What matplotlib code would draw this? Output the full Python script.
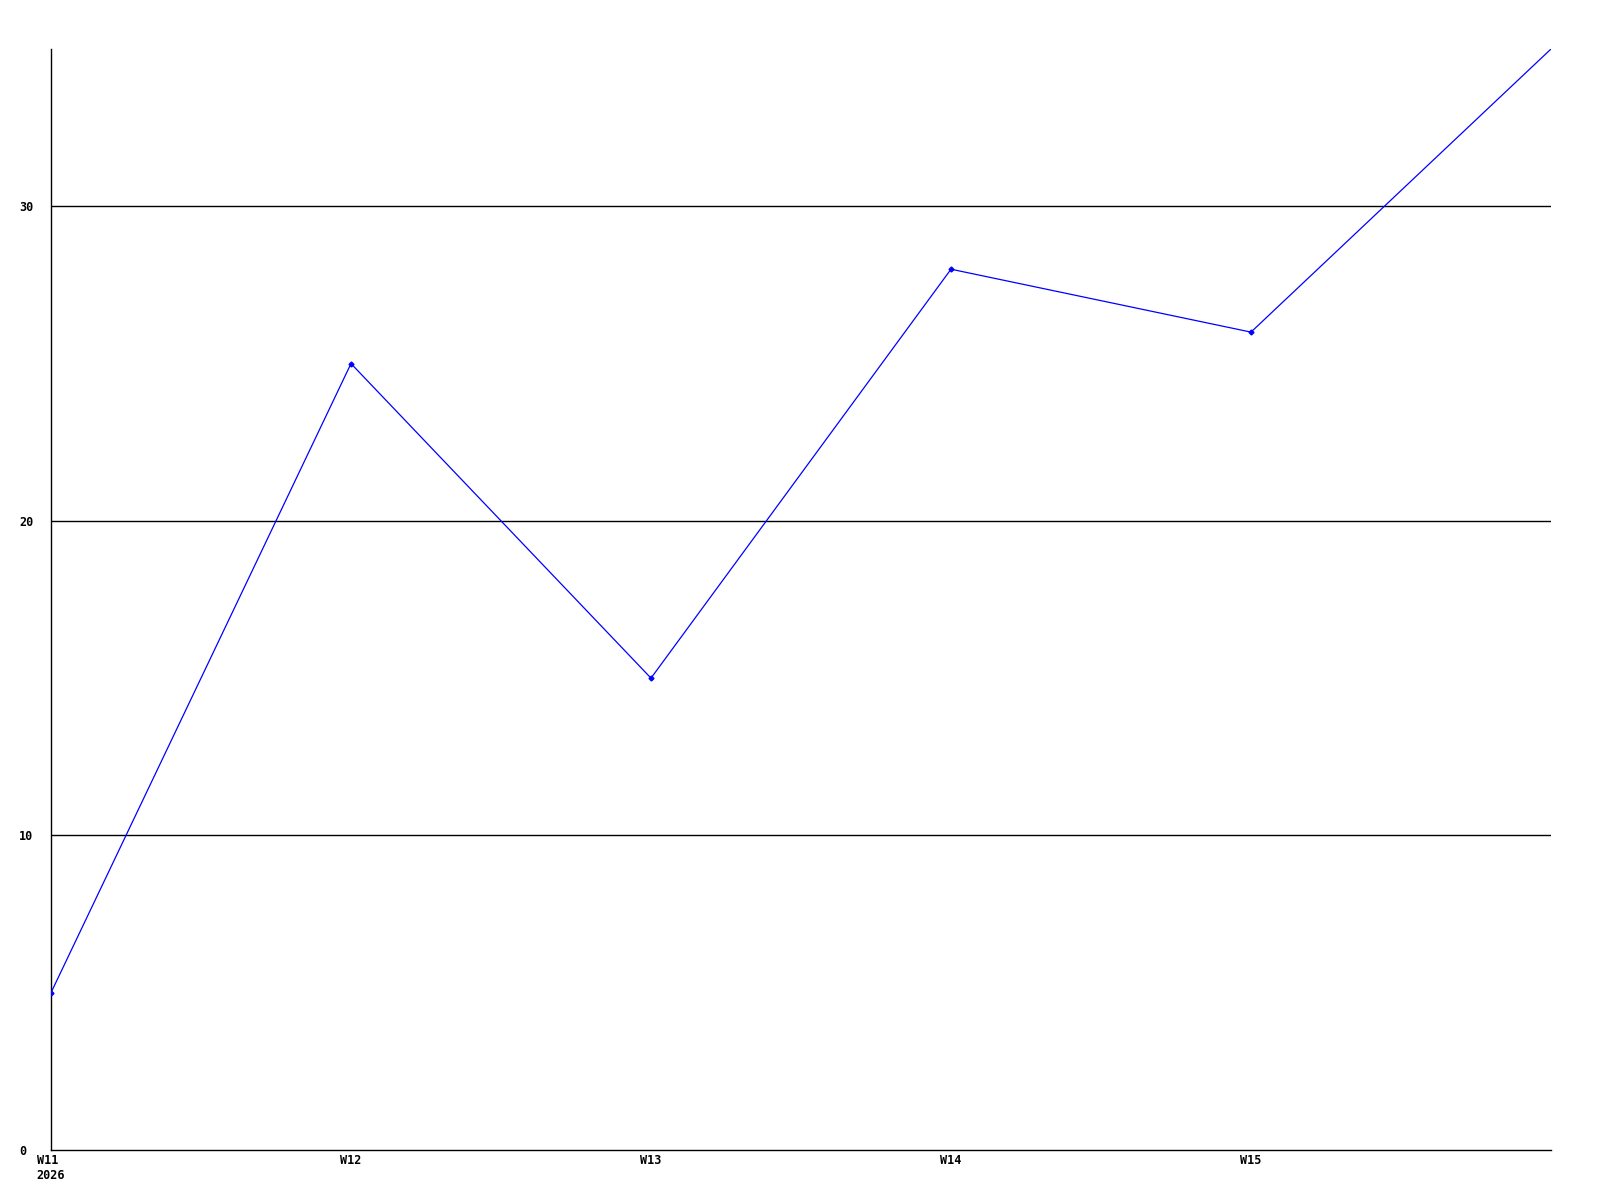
import matplotlib
matplotlib.use("Agg")
import matplotlib.pyplot as plt

# weekly values; last point (W16) sits at the right edge, unlabeled
weeks = ["W11\n2026", "W12", "W13", "W14", "W15", "W16"]
values = [5, 25, 15, 28, 26, 35]
y_ticks = [0, 10, 20, 30]

fig = plt.figure(figsize=(16, 12), dpi=100)
ax = fig.add_axes([51 / 1600, 50 / 1200, 1500 / 1600, 1101 / 1200])

xs = list(range(len(values)))
ax.plot(xs, values, color="#0000ff", lw=0.9, marker="D", ms=2.5,
        markevery=list(range(len(values) - 1)), zorder=3)

ax.set_xlim(0, len(values) - 1)
ax.set_ylim(0, 35)

for y in y_ticks[1:]:
    ax.axhline(y, color="black", lw=1.0, zorder=1)

font = dict(family="DejaVu Sans Mono", weight="bold", size=8.5)
ax.set_xticks(xs[:-1])
ax.set_xticklabels(weeks[:-1], multialignment="left", **font)
ax.set_yticks(y_ticks)
ax.set_yticklabels([str(v) for v in y_ticks], ha="left", **font)
ax.tick_params(axis="both", length=0)
ax.tick_params(axis="y", pad=23)
ax.tick_params(axis="x", pad=3)

for side in ("top", "right"):
    ax.spines[side].set_visible(False)
for side in ("left", "bottom"):
    ax.spines[side].set_linewidth(1.0)
    ax.spines[side].set_color("black")

fig.savefig("out.png", dpi=100)
